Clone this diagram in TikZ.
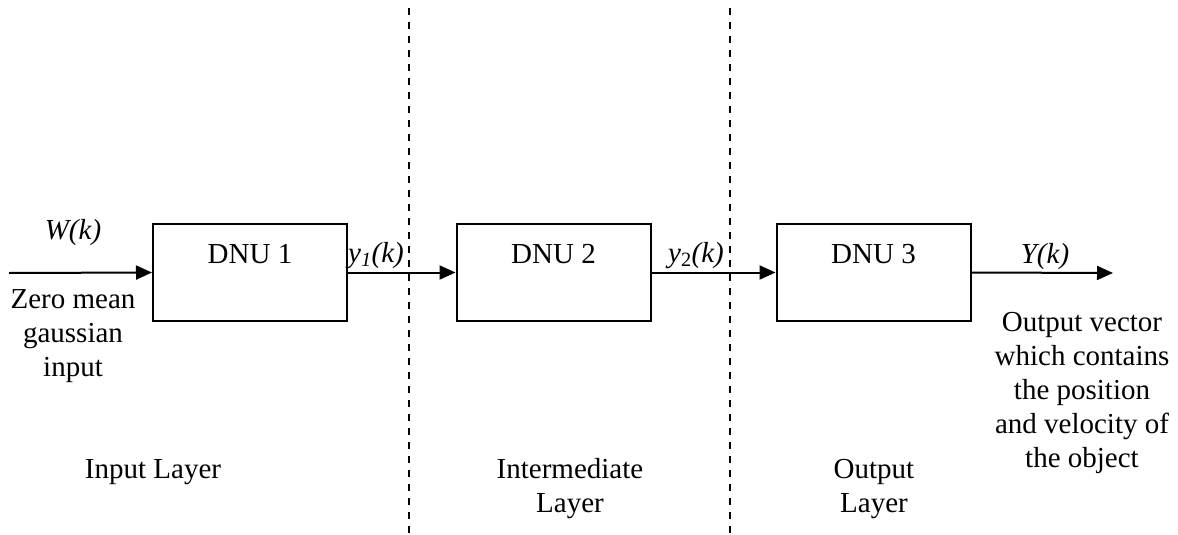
\documentclass[tikz,border=0pt]{standalone}
\usepackage{fontspec}
\setmainfont{Liberation Serif}
\usetikzlibrary{arrows.meta}
\begin{document}
\begin{tikzpicture}[x=1pt,y=-1pt,
  font=\fontsize{29}{34}\selectfont,
  blockbox/.style={draw,line width=2pt,minimum width=194pt,minimum height=97pt,inner sep=0pt},
  flow/.style={line width=2pt,-{Triangle[length=16pt,width=14pt]}},
  divider/.style={line width=2pt,dash pattern=on 7pt off 7pt},
  txt/.style={anchor=base,inner sep=0pt,align=center}]
\useasboundingbox (0,0) rectangle (1178,535);
% dividers
\draw[divider] (409,8) -- (409,535);
\draw[divider] (730,8) -- (730,535);
% blocks
\node[blockbox] (b1) at (250,272.5) {};
\node[blockbox] (b2) at (553.5,272.5) {};
\node[blockbox] (b3) at (873.5,272.5) {};
\node[txt] (t1) at (250,263) {DNU 1};
\node[txt] (t2) at (553.5,263) {DNU 2};
\node[txt] (t3) at (873.5,263) {DNU 3};
% connectors
\coordinate (in) at (9,273);
\coordinate (out) at (1113,273);
\draw[flow] (in) -- (b1.west);
\draw[flow] (b1.east) -- (b2.west);
\draw[flow] (b2.east) -- (b3.west);
\draw[flow] (b3.east) -- (out);
% signal labels
\node[txt] (w) at (73,239) {\textit{W(k)}};
\node[txt] (y1) at (376,262) {\textit{y\textsubscript{1}(k)}};
\node[txt] (y2) at (696,262) {\textit{y}\textsubscript{2}\textit{(k)}};
\node[txt] (yy) at (1045,263) {\textit{Y(k)}};
% descriptions (base = last line's baseline)
\node[txt] (zin) at (73,376) {Zero mean\\gaussian\\input};
\node[txt] (ov) at (1082,467) {Output vector\\which contains\\the position\\and velocity of\\the object};
\node[txt] (l1) at (153,478) {Input Layer};
\node[txt] (l2) at (570,512) {Intermediate\\Layer};
\node[txt] (l3) at (874,512) {Output\\Layer};
\end{tikzpicture}
\end{document}
